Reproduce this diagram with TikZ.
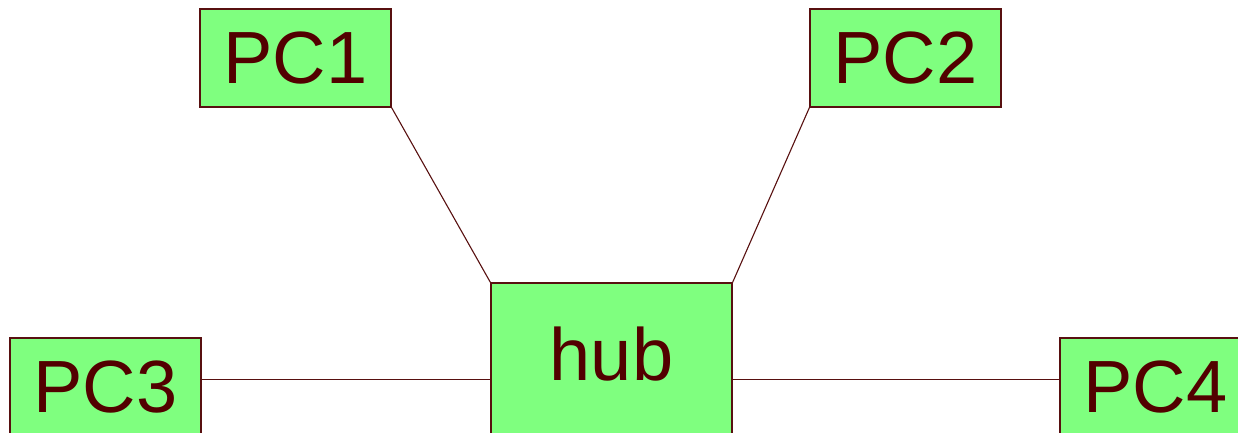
\documentclass[tikz,border=0pt]{standalone}
\usepackage{fontspec}
\setmainfont{Liberation Sans}
\usepackage{xcolor}
\usetikzlibrary{positioning}
\definecolor{boxgreen}{RGB}{127,255,127}
\definecolor{boxline}{RGB}{88,16,16}
\definecolor{boxtext}{RGB}{82,0,0}

\begin{document}
\begin{tikzpicture}[
    x=1pt, y=-1pt,
    station/.style={rectangle, draw=boxline, fill=boxgreen, line width=1.2pt,
        text=boxtext, font=\fontsize{74}{74}\selectfont,
        minimum width=191pt, minimum height=98pt, inner sep=0},
    hubbox/.style={station, minimum width=241pt, minimum height=160pt,
        text height=53pt, text depth=18pt},
    link/.style={draw=boxline, line width=1.1pt}]
\useasboundingbox (0,0) rectangle (1238,433);

\node[station] (pc1) at (295.5,58) {PC1};
\node[station] (pc2) at (905.5,58) {PC2};
\node[hubbox]  (hub) at (611.5,363) {hub};
\node[station] (pc3) at (105.5,387) {PC3};
\node[station] (pc4) at (1155.5,387) {PC4};

\path[link] (pc1.south east) -- (hub.north west);
\path[link] (pc2.south west) -- (hub.north east);
\path[link] ([yshift=-42pt]pc3.north east) -- ([yshift=-97pt]hub.north west);
\path[link] ([yshift=-97pt]hub.north east) -- ([yshift=-42pt]pc4.north west);

\end{tikzpicture}
\end{document}
